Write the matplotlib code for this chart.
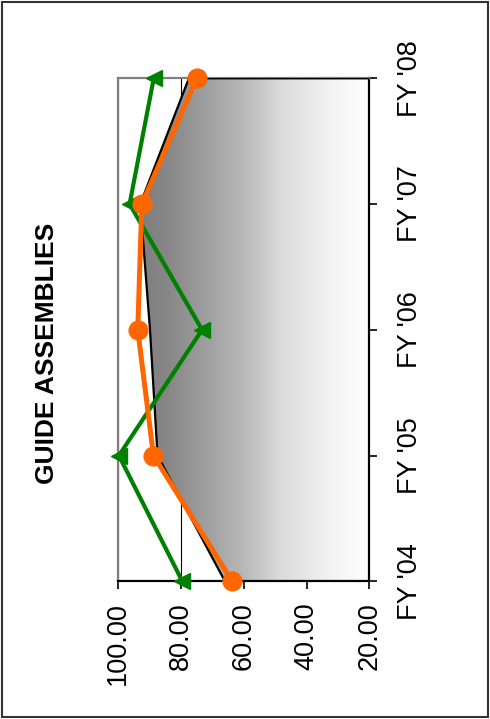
import matplotlib.pyplot as plt
from matplotlib.colors import LinearSegmentedColormap
from matplotlib.patches import Polygon, Rectangle
import numpy as np

plt.rcParams['font.family'] = ['Liberation Sans', 'DejaVu Sans']

categories = ["FY '04", "FY '05", "FY '06", "FY '07", "FY '08"]
area_vals = [66.0, 87.5, 89.9, 93.0, 77.5]
orange_vals = [63.7, 88.8, 93.8, 92.5, 75.0]
green_vals = [79.6, 99.8, 73.3, 96.4, 88.7]
value_ticks = [100, 80, 60, 40, 20]
title = "GUIDE ASSEMBLIES"

W, H = 490, 719
fig = plt.figure(figsize=(W / 100, H / 100), dpi=100)

# plot area (chart is drawn turned on its side)
left, right, top, bottom = 118.3, 369.3, 78.3, 581.3
ax = fig.add_axes([left / W, 1 - bottom / H, (right - left) / W, (bottom - top) / H])

pos = list(range(len(categories)))
ax.set_xlim(100, 20)
ax.set_ylim(0, len(categories) - 1)

# gridlines behind the area
ax.set_axisbelow(True)
ax.grid(axis='x', color='black', lw=0.8)
ax.grid(axis='y', visible=False)

# area series with a gray to white gradient
verts = [(v, p) for v, p in zip(area_vals, pos)] + [(20, pos[-1]), (20, pos[0])]
poly = Polygon(verts, closed=True, facecolor='none', edgecolor='black', lw=1.6, zorder=3)
ax.add_patch(poly)
cmap = LinearSegmentedColormap.from_list(
    'grad', [(0.0, '#787878'), (0.2, '#878787'), (0.5, '#b8b8b8'),
             (0.65, '#dcdcdc'), (0.85, '#f3f3f3'), (1.0, '#ffffff')])
grad = np.linspace(0, 1, 256).reshape(1, -1)
im = ax.imshow(grad, cmap=cmap, extent=[100, 20, 0, len(categories) - 1],
               aspect='auto', zorder=2, interpolation='bilinear')
im.set_clip_path(poly)

ax.plot(green_vals, pos, color='#008000', lw=3.0, marker='<', ms=12,
        zorder=4, clip_on=False)
ax.plot(orange_vals, pos, color='#ff6600', lw=3.6, marker='o', ms=13.5,
        zorder=5, clip_on=False)

# spines
for s in ['left', 'top']:
    ax.spines[s].set_color('#808080')
    ax.spines[s].set_linewidth(1.6)
for s in ['right', 'bottom']:
    ax.spines[s].set_color('black')
    ax.spines[s].set_linewidth(1.6)

ax.set_xticks(value_ticks)
ax.set_xticklabels([f"{v:.2f}" for v in value_ticks], rotation=90, fontsize=19.5)
ax.tick_params(axis='x', direction='out', length=6, width=1.2, pad=9)

ax.yaxis.tick_right()
ax.set_yticks(pos)
ax.set_yticklabels(categories, rotation=90, fontsize=19.5, va='center')
ax.tick_params(axis='y', direction='out', length=6, width=1.2, pad=14)

fig.text(47.5 / W, 1 - 353.5 / H, title, rotation=90, ha='center', va='center',
         fontsize=19, fontweight='bold')

# outer chart border
fig.patches.append(Rectangle((2 / W, 2 / H), 486 / W, 715 / H, transform=fig.transFigure,
                             fill=False, edgecolor='#333333', lw=1.5))

fig.savefig('out.png', dpi=100)
